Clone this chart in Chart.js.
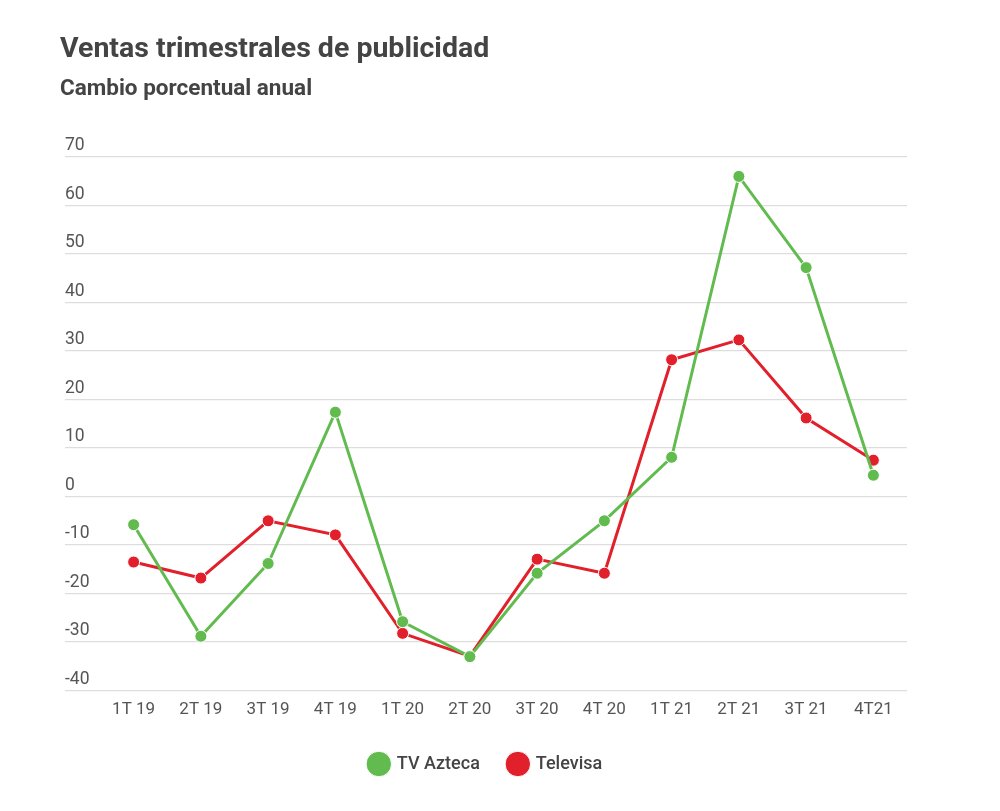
<!DOCTYPE html>
<html>
<head>
<meta charset="utf-8">
<script src="https://cdn.jsdelivr.net/npm/chart.js@4/dist/chart.umd.min.js"></script>
<style>
  body { margin: 0; background: #fff; font-family: Roboto, sans-serif; }
  #wrap { position: relative; width: 1000px; height: 811px; }
  #title { position: absolute; left: 60px; top: 31px; font-size: 28.5px; font-weight: bold; color: #444; }
  #subtitle { position: absolute; left: 60px; top: 74px; font-size: 22.5px; font-weight: bold; color: #444; }
  #chart { position: absolute; left: 0; top: 0; }
</style>
</head>
<body>
<div id="wrap">
  <canvas id="chart" width="1000" height="811"></canvas>
  <div id="title">Ventas trimestrales de publicidad</div>
  <div id="subtitle">Cambio porcentual anual</div>
</div>
<script>
// Quarters and annual % change of ad sales
const quarters = ["1T 19", "2T 19", "3T 19", "4T 19", "1T 20", "2T 20", "3T 20", "4T 20", "1T 21", "2T 21", "3T 21", "4T21"];
const tvAzteca = [-5.8, -28.8, -13.8, 17.4, -25.8, -33, -15.8, -5, 8.1, 66, 47.2, 4.4];
const televisa = [-13.5, -16.8, -5, -7.9, -28.2, -32.9, -12.9, -15.8, 28.2, 32.3, 16.2, 7.5];

const green = "#62bb4f";
const red = "#e2202b";

const ctx = document.getElementById("chart").getContext("2d");
new Chart(ctx, {
    type: "line",
    data: {
        labels: quarters,
        datasets: [{
            label: "TV Azteca",
            data: tvAzteca,
            borderColor: green,
            backgroundColor: green,
            borderWidth: 3,
            pointRadius: 6,
            pointBorderColor: "#fff",
            pointBorderWidth: 1,
            pointHoverRadius: 6,
            tension: 0
        }, {
            label: "Televisa",
            data: televisa,
            borderColor: red,
            backgroundColor: red,
            borderWidth: 3,
            pointRadius: 6,
            pointBorderColor: "#fff",
            pointBorderWidth: 1,
            pointHoverRadius: 6,
            tension: 0
        }]
    },
    options: {
        responsive: false,
        animation: false,
        layout: { padding: { left: 65, right: 93, top: 157, bottom: 28 } },
        plugins: {
            legend: {
                position: "bottom",
                labels: {
                    usePointStyle: true,
                    pointStyle: "circle",
                    boxWidth: 22,
                    boxHeight: 22,
                    padding: 29,
                    color: "#444",
                    font: { family: "Roboto", size: 18, weight: "500" }
                }
            },
            tooltip: { enabled: false }
        },
        scales: {
            x: {
                offset: true,
                grid: { display: false },
                border: { display: false },
                afterFit: function (scale) { scale.height += 5; },
                ticks: {
                    color: "#555",
                    padding: 1,
                    font: { family: "Roboto", size: 17 }
                }
            },
            y: {
                min: -40,
                max: 70,
                border: { display: false },
                grid: { color: "#dddddd", tickLength: 35, lineWidth: 1.2 },
                afterFit: function (scale) { scale.width = 35; },
                ticks: {
                    stepSize: 10,
                    crossAlign: "far",
                    labelOffset: -11,
                    color: "#555",
                    font: { family: "Roboto", size: 17.5 }
                }
            }
        }
    }
});
</script>
</body>
</html>
